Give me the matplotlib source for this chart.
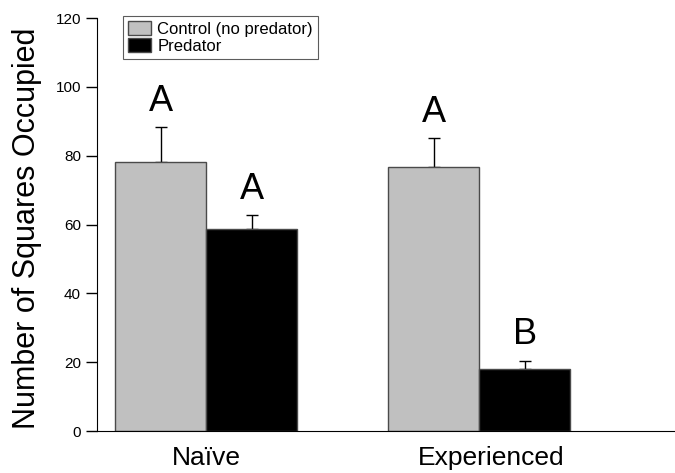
import matplotlib.pyplot as plt
import matplotlib.transforms as transforms
import numpy as np

plt.rcParams['font.family'] = ['Liberation Sans', 'DejaVu Sans']

groups = ["Naïve", "Experienced"]
control = [78.3, 76.8]
control_err = [10.0, 8.2]
predator = [58.6, 17.9]
predator_err = [4.2, 2.5]
control_letters = ["A", "A"]
predator_letters = ["A", "B"]

x = np.array([0, 3])
w = 1.0

fig = plt.figure(figsize=(6.75, 4.73), dpi=100)
ax = fig.add_axes([97 / 675, 1 - 431 / 473, 1 - 97 / 675, 413 / 473])

ax.bar(x - w / 2, control, w, color="#c0c0c0", edgecolor="#4a4a4a", linewidth=1,
       label="Control (no predator)", zorder=2)
ax.bar(x + w / 2, predator, w, color="black", edgecolor="#4a4a4a", linewidth=1,
       label="Predator", zorder=2)

# upper error bars only
ax.errorbar(x - w / 2, control, yerr=[np.zeros(2), control_err], fmt="none",
            ecolor="black", elinewidth=1, capsize=4, capthick=1, zorder=1)
ax.errorbar(x + w / 2, predator, yerr=[np.zeros(2), predator_err], fmt="none",
            ecolor="black", elinewidth=1, capsize=4, capthick=1, zorder=1)

for i in range(2):
    ax.text(x[i] - w / 2, control[i] + control_err[i] + 7.5, control_letters[i],
            ha="center", va="center", fontsize=26)
    ax.text(x[i] + w / 2, predator[i] + predator_err[i] + 7.5, predator_letters[i],
            ha="center", va="center", fontsize=26)

ax.set_xlim(-1.2, 5.15)
ax.set_ylim(0, 120)
ax.set_yticks(range(0, 121, 20))
ax.tick_params(axis="y", labelsize=11, length=8, width=1, direction="out")
ax.set_xticks(x)
ax.set_xticklabels(groups, fontsize=19)
ax.tick_params(axis="x", length=0, pad=11)
# the second category label sits a bit right of its group centre
shift = transforms.ScaledTranslation(0.12, 0, fig.dpi_scale_trans)
lab = ax.get_xticklabels()[1]
lab.set_transform(lab.get_transform() + shift)

ax.spines["top"].set_visible(False)
ax.spines["right"].set_visible(False)
ax.set_ylabel("Number of Squares Occupied", fontsize=22)
ax.yaxis.set_label_coords(-0.095, 0.49)

leg = ax.legend(loc="upper left", bbox_to_anchor=(0.045, 1.005), fontsize=12,
                frameon=True, fancybox=False, edgecolor="#333333", borderpad=0.3,
                handlelength=1.35, handleheight=0.95, handletextpad=0.4,
                labelspacing=0.05, borderaxespad=0)
leg.get_frame().set_linewidth(0.8)

fig.savefig("out.png", dpi=100)
